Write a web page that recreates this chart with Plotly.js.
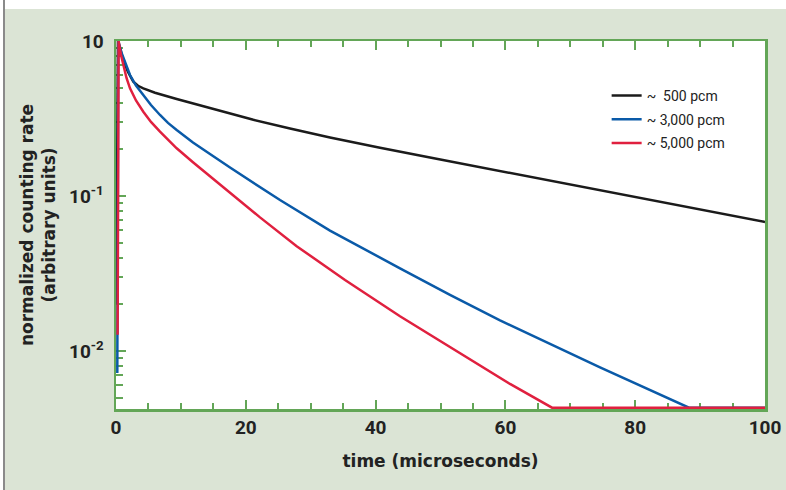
<!DOCTYPE html>
<html><head><meta charset="utf-8">
<script src="https://cdn.plot.ly/plotly-3.0.1.min.js"></script>
<style>
html,body{margin:0;padding:0;background:#fff;width:786px;height:490px;overflow:hidden;}
#edge{position:absolute;left:3px;top:0;width:2px;height:490px;background:#8a8a8a;}
#chart{position:absolute;left:5px;top:9px;width:781px;height:481px;}
</style></head><body>
<div id="edge"></div><div id="chart"></div>
<script>
// Series names (legend)
const seriesNames = ["~\u00a0 500 pcm", "~ 3,000 pcm", "~ 5,000 pcm"];

// ~500 pcm (black)
const timeLow = [0.05, 0.3, 1.12, 1.85, 2.67, 3.39, 4.21, 6.01, 9.35, 14.48, 21.16, 26.81, 32.97, 40.68, 48.38, 100];
const rateLow = [0.02, 1.0, 0.754, 0.631, 0.546, 0.514, 0.495, 0.4632, 0.4223, 0.368, 0.3102, 0.2721, 0.2384, 0.2046, 0.1768, 0.068];

// ~3,000 pcm (blue)
const timeMid = [0.2, 0.35, 0.92, 1.54, 2.16, 3.08, 4.21, 5.39, 6.78, 8.01, 9.35, 11.86, 14.48, 17.57, 25.27, 32.97, 43.76, 51.46, 59.17, 74.58, 88.29, 100];
const rateMid = [0.0072, 1.0, 0.824, 0.700, 0.603, 0.516, 0.448, 0.3865, 0.333, 0.296, 0.2666, 0.2214, 0.1866, 0.1525, 0.0941, 0.0598, 0.0341, 0.02298, 0.01575, 0.00784, 0.0043, 0.0043];

// ~5,000 pcm (red)
const timeHigh = [0.25, 0.4, 0.77, 1.12, 1.62, 2.16, 3.08, 4.21, 5.39, 6.78, 8.01, 9.35, 11.86, 14.48, 17.57, 22.19, 27.84, 35.29, 43.76, 54.04, 60.71, 67.18, 100];
const rateHigh = [0.0127, 1.0, 0.812, 0.690, 0.577, 0.4953, 0.4131, 0.3499, 0.3002, 0.260, 0.2298, 0.2031, 0.165, 0.134, 0.1047, 0.0727, 0.0474, 0.02867, 0.01672, 0.00904, 0.00612, 0.0043, 0.0043];

// Axis ticks
const xTickVals = [0, 20, 40, 60, 80, 100];
const xTickText = ["0", "20", "40", "60", "80", "100"];
const yTickVals = [1, 0.1, 0.01];
const yTickText = ["10", "10<sup>-1</sup>", "10<sup>-2</sup>"];

const green = '#63a657';
const tickFont = {family: 'Roboto, sans-serif', size: 19, weight: 700, color: '#222'};
const titleFont = {family: '"DejaVu Sans", sans-serif', size: 17, weight: 700, color: '#222'};

const colors = ['#1b1b1b', '#0a5aa8', '#e0203f'];
const xs = [timeLow, timeMid, timeHigh];
const ys = [rateLow, rateMid, rateHigh];

const traces = xs.map((x, i) => ({
  type: 'scatter', mode: 'lines', x: x, y: ys[i], name: seriesNames[i],
  legendgroup: 'g' + i,
  line: {color: colors[i], width: 2.5, shape: 'linear'}
}));

const layout = {
  width: 781, height: 481,
  margin: {l: 111, r: 21, t: 32, b: 81},
  paper_bgcolor: '#dbe4d5', plot_bgcolor: '#ffffff',
  font: {family: 'Roboto, sans-serif', color: '#222'},
  showlegend: true,
  legend: {x: 0.756, y: 0.894, xanchor: 'left', yanchor: 'top', bgcolor: 'rgba(0,0,0,0)',
           tracegroupgap: 2.5,
           font: {family: 'Roboto, sans-serif', size: 14, color: '#222'}},
  xaxis: {
    range: [0, 100], tickmode: 'array', tickvals: xTickVals, ticktext: xTickText,
    ticks: 'inside', ticklen: 9, tickwidth: 2, tickcolor: green,
    showline: true, linecolor: green, linewidth: 2.5, mirror: 'ticks',
    showgrid: false, zeroline: false, layer: 'below traces',
    tickfont: tickFont,
    minor: {dtick: 5, ticks: 'inside', ticklen: 6, tickwidth: 2, tickcolor: green, showgrid: false},
    title: {text: 'time (microseconds)', font: titleFont, standoff: 17}
  },
  yaxis: {
    type: 'log', range: [-2.375, 0], tickmode: 'array', tickvals: yTickVals, ticktext: yTickText,
    ticks: 'inside', ticklen: 10, tickwidth: 2, tickcolor: green,
    showline: true, linecolor: green, linewidth: 2.5, mirror: true,
    showgrid: false, zeroline: false, layer: 'below traces',
    tickfont: tickFont, ticklabelstandoff: 6,
    minor: {dtick: 'D1', ticks: 'inside', ticklen: 7, tickwidth: 2, tickcolor: green, showgrid: false},
    title: {text: 'normalized counting rate<br>(arbitrary units)', font: titleFont, standoff: 9}
  }
};

Plotly.newPlot('chart', traces, layout, {staticPlot: true, displayModeBar: false});
</script>
</body></html>
